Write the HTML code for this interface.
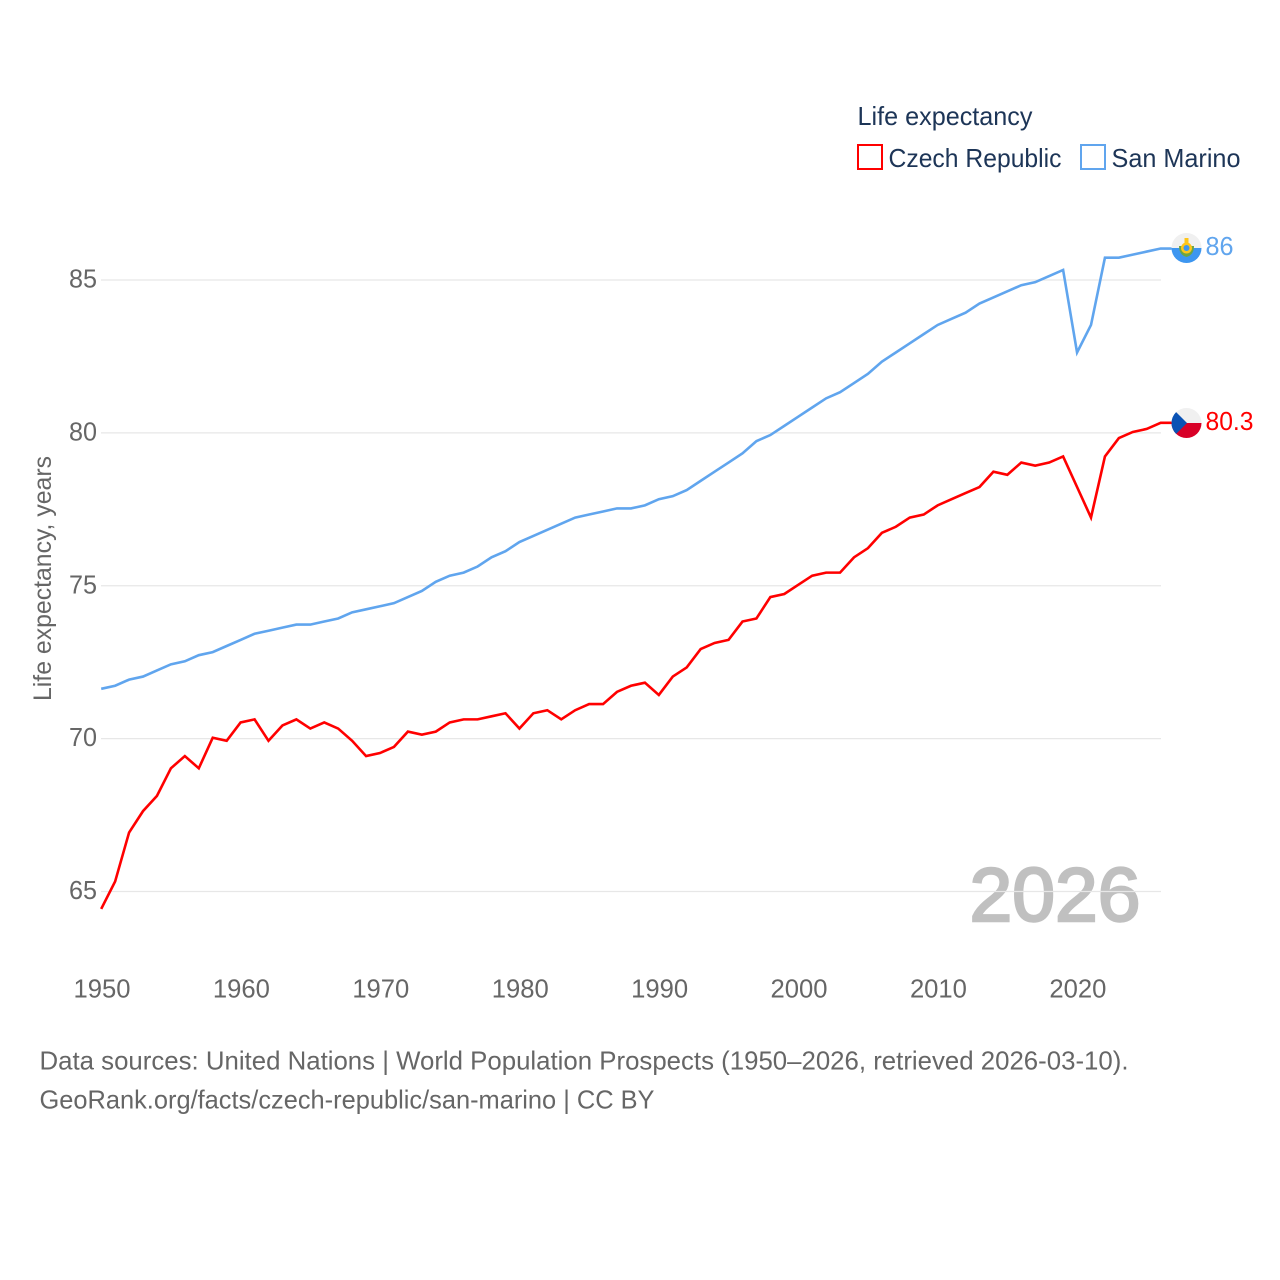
<!DOCTYPE html>
<html lang="en">
<head>
<meta charset="utf-8">
<title>Life expectancy: Czech Republic and San Marino</title>
<style>
html,body{margin:0;padding:0;background:#fff;}
svg{display:block;}
text{font-family:"Liberation Sans",sans-serif;}
</style>
</head>
<body>
<svg id="chart" xmlns="http://www.w3.org/2000/svg" width="1280" height="1280" viewBox="0 0 1280 1280">
  <rect x="0" y="0" width="1280" height="1280" fill="#fff"/>
  <text x="969.5" y="921" font-size="76" font-weight="400" fill="#c0c0c0" stroke="#c0c0c0" stroke-width="2.4" textLength="171" lengthAdjust="spacingAndGlyphs">2026</text>
  <g id="grid"></g>
  <g id="yticks"></g>
  <g id="xticks"></g>
  <text transform="translate(51,701) rotate(-90)" font-size="25" fill="#666" textLength="245" lengthAdjust="spacingAndGlyphs">Life expectancy, years</text>

  <g id="series" transform="translate(-0.3,-0.9)"></g>

  <g>
    <text x="857.5" y="125" font-size="26" fill="#1d3557" textLength="175" lengthAdjust="spacingAndGlyphs">Life expectancy</text>
    <rect x="858" y="145" width="24" height="24" fill="#fff" stroke="#ff0000" stroke-width="2"/>
    <text x="888.5" y="167" font-size="26" fill="#1d3557" textLength="173" lengthAdjust="spacingAndGlyphs">Czech Republic</text>
    <rect x="1081" y="145" width="24" height="24" fill="#fff" stroke="#60a5ee" stroke-width="2"/>
    <text x="1111.5" y="167" font-size="26" fill="#1d3557" textLength="129" lengthAdjust="spacingAndGlyphs">San Marino</text>
  </g>

  <defs>
    <clipPath id="flag-clip-sm"><circle cx="1186.5" cy="248" r="15"/></clipPath>
    <clipPath id="flag-clip-cz"><circle cx="1186.5" cy="423" r="15"/></clipPath>
  </defs>
  <g clip-path="url(#flag-clip-sm)">
    <rect x="1171" y="233" width="31" height="15" fill="#f0f0f0"/>
    <rect x="1171" y="248" width="31" height="15" fill="#3d96f0"/>
    <path d="M1179 246c0 6 3 10 7.500 11c4.500-1 7.500-5 7.500-11z" fill="#6da544"/>
    <circle cx="1186.500" cy="248" r="5.500" fill="#ffc61a"/>
    <circle cx="1186.500" cy="248" r="3" fill="#3d96f0"/>
    <rect x="1184.500" y="238" width="4" height="6" fill="#ffc61a"/>
  </g>
  <text x="1205.500" y="255" font-size="26" fill="#60a5ee" textLength="28" lengthAdjust="spacingAndGlyphs">86</text>

  <g clip-path="url(#flag-clip-cz)">
    <rect x="1171" y="408" width="31" height="15" fill="#f0f0f0"/>
    <rect x="1171" y="423" width="31" height="15" fill="#d80027"/>
    <path d="M1176 412L1187 423L1176 434L1171 438L1171 408z" fill="#0a52b4"/>
  </g>
  <text x="1205.500" y="430" font-size="26" fill="#ff0000" textLength="48" lengthAdjust="spacingAndGlyphs">80.3</text>

  <text x="39.500" y="1069.500" font-size="26" fill="#666" textLength="1089" lengthAdjust="spacingAndGlyphs">Data sources: United Nations | World Population Prospects (1950–2026, retrieved 2026-03-10).</text>
  <text x="39.500" y="1108.500" font-size="26" fill="#666" textLength="615" lengthAdjust="spacingAndGlyphs">GeoRank.org/facts/czech-republic/san-marino | CC BY</text>
</svg>
<script>
const years = [1950,1951,1952,1953,1954,1955,1956,1957,1958,1959,1960,1961,1962,1963,1964,1965,1966,1967,1968,1969,1970,1971,1972,1973,1974,1975,1976,1977,1978,1979,1980,1981,1982,1983,1984,1985,1986,1987,1988,1989,1990,1991,1992,1993,1994,1995,1996,1997,1998,1999,2000,2001,2002,2003,2004,2005,2006,2007,2008,2009,2010,2011,2012,2013,2014,2015,2016,2017,2018,2019,2020,2021,2022,2023,2024,2025,2026];
const czechRepublic = [64.4,65.3,66.9,67.6,68.1,69.0,69.4,69.0,70.0,69.9,70.5,70.6,69.9,70.4,70.6,70.3,70.5,70.3,69.9,69.4,69.5,69.7,70.2,70.1,70.2,70.5,70.6,70.6,70.7,70.8,70.3,70.8,70.9,70.6,70.9,71.1,71.1,71.5,71.7,71.8,71.4,72.0,72.3,72.9,73.1,73.2,73.8,73.9,74.6,74.7,75.0,75.3,75.4,75.4,75.9,76.2,76.7,76.9,77.2,77.3,77.6,77.8,78.0,78.2,78.7,78.6,79.0,78.9,79.0,79.2,78.2,77.2,79.2,79.8,80.0,80.1,80.3];
const sanMarino = [71.6,71.7,71.9,72.0,72.2,72.4,72.5,72.7,72.8,73.0,73.2,73.4,73.5,73.6,73.7,73.7,73.8,73.9,74.1,74.2,74.3,74.4,74.6,74.8,75.1,75.3,75.4,75.6,75.9,76.1,76.4,76.6,76.8,77.0,77.2,77.3,77.4,77.5,77.5,77.6,77.8,77.9,78.1,78.4,78.7,79.0,79.3,79.7,79.9,80.2,80.5,80.8,81.1,81.3,81.6,81.9,82.3,82.6,82.9,83.2,83.5,83.7,83.9,84.2,84.4,84.6,84.8,84.9,85.1,85.3,82.6,83.5,85.7,85.7,85.8,85.9,86.0];
const yTickValues = [65,70,75,80,85];
const xTickValues = [1950,1960,1970,1980,1990,2000,2010,2020];

const NS = 'http://www.w3.org/2000/svg';
function xScale(year) { return 101.5 + (year - 1950) * (1161 - 101.5) / (2026 - 1950); }
function yScale(value) { return 891.5 - (value - 65) * (891.5 - 280) / (85 - 65); }
function make(tag, attrs, parent) {
  const el = document.createElementNS(NS, tag);
  for (const k in attrs) el.setAttribute(k, attrs[k]);
  parent.appendChild(el);
  return el;
}

const grid = document.getElementById('grid');
const yticks = document.getElementById('yticks');
yTickValues.forEach(function (v) {
  const line = make('line', {x1: 101, x2: 1161, y1: yScale(v), y2: yScale(v), stroke: '#e7e7e7', 'stroke-width': 1.2}, grid);
  
  
  const label = make('text', {x: 69, y: yScale(v) + 7.5, 'font-size': 26, fill: '#666', textLength: 28, lengthAdjust: 'spacingAndGlyphs'}, yticks);
  label.textContent = String(v);
  
  
});

const xticks = document.getElementById('xticks');
xTickValues.forEach(function (yr) {
  const label = make('text', {x: xScale(yr) - 28, y: 997.5, 'font-size': 26, fill: '#666', textLength: 57, lengthAdjust: 'spacingAndGlyphs'}, xticks);
  label.textContent = String(yr);
  
  
});

const seriesGroup = document.getElementById('series');
function drawSeries(values, color, name) {
  const pts = values.map(function (v, i) { return xScale(years[i]).toFixed(2) + ',' + yScale(v).toFixed(2); });
  const lastY = yScale(values[values.length - 1]).toFixed(2);
  pts.push('1172,' + lastY);
  const line = make('polyline', {points: pts.join(' '), fill: 'none', stroke: color, 'stroke-width': 2.6, 'stroke-linejoin': 'miter'}, seriesGroup);
  
  
}
drawSeries(sanMarino, '#60a5ee', 'line-san-marino');
drawSeries(czechRepublic, '#ff0000', 'line-czech-republic');
</script>
</body>
</html>
